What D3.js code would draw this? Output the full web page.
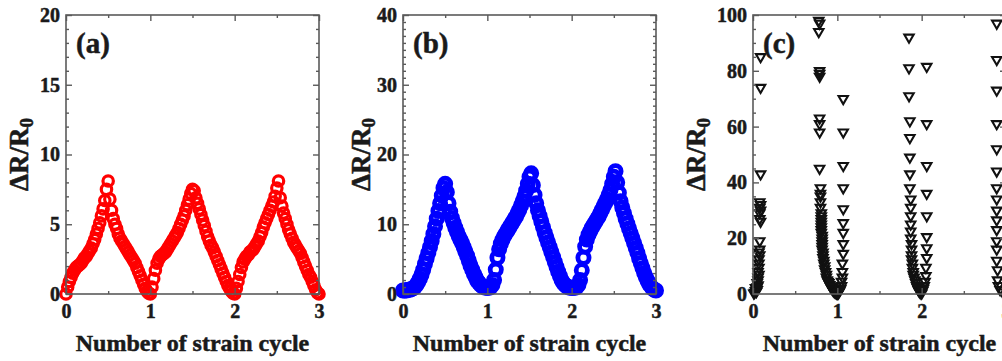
<!DOCTYPE html>
<html>
<head>
<meta charset="utf-8">
<script src="https://cdn.jsdelivr.net/npm/d3@7/dist/d3.min.js"></script>
<style>
	body { margin: 0; background: #fff; }
	svg text { font-family: 'Liberation Serif', 'Times New Roman', serif; font-weight: bold; fill: #1a1a1a; stroke: #1a1a1a; stroke-width: 0.5px; }
</style>
</head>
<body>
<svg id="chart" width="1002" height="361"></svg>
<script>
'use strict';

// strain cycle positions shared by panels (a) and (b)
var strainX = [
	0,0.02,0.04,0.06,0.08,0.1,0.12,0.14,0.16,0.18,0.2,0.22,0.24,0.26,0.28,0.3,0.32,0.34,0.36,0.38,
	0.4,0.42,0.44,0.46,0.48,0.5,0.52,0.54,0.56,0.58,0.6,0.62,0.64,0.66,0.68,0.7,0.72,0.74,0.76,0.78,
	0.8,0.82,0.84,0.86,0.88,0.9,0.92,0.94,0.96,0.98,
	1,1.02,1.04,1.06,1.08,1.1,1.12,1.14,1.16,1.18,1.2,1.22,1.24,1.26,1.28,1.3,1.32,1.34,1.36,1.38,
	1.4,1.42,1.44,1.46,1.48,1.5,1.52,1.54,1.56,1.58,1.6,1.62,1.64,1.66,1.68,1.7,1.72,1.74,1.76,1.78,
	1.8,1.82,1.84,1.86,1.88,1.9,1.92,1.94,1.96,1.98,
	2,2.02,2.04,2.06,2.08,2.1,2.12,2.14,2.16,2.18,2.2,2.22,2.24,2.26,2.28,2.3,2.32,2.34,2.36,2.38,
	2.4,2.42,2.44,2.46,2.48,2.5,2.52,2.54,2.56,2.58,2.6,2.62,2.64,2.66,2.68,2.7,2.72,2.74,2.76,2.78,
	2.8,2.82,2.84,2.86,2.88,2.9,2.92,2.94,2.96,2.98,3
];

// panel (a) dR/R0
var aY = [
	0,0.5,0.9,1.2,1.5,1.7,1.9,2.0,2.1,2.2,2.4,2.6,2.7,2.9,3.1,3.3,3.6,3.9,4.3,4.7,
	5.1,5.6,6.1,6.7,7.5,8.1,6.8,6.0,5.4,5.0,4.7,4.3,4.0,3.8,3.6,3.4,3.2,3.0,2.8,2.6,
	2.4,2.2,1.9,1.6,1.3,1.0,0.7,0.4,0.2,0.05,
	0,0.5,1.1,1.7,2.2,2.5,2.7,2.8,2.9,3.0,3.2,3.4,3.6,3.8,4.0,4.2,4.4,4.7,5.0,5.3,
	5.6,6.0,6.4,6.8,7.2,7.5,7.4,6.9,6.5,6.1,5.7,5.3,4.9,4.5,4.1,3.8,3.5,3.3,3.0,2.7,
	2.4,2.1,1.8,1.5,1.2,0.9,0.6,0.4,0.2,0.05,
	0,0.4,0.9,1.4,1.9,2.3,2.5,2.7,2.8,3.0,3.1,3.2,3.4,3.6,3.8,4.1,4.4,4.8,5.1,5.4,
	5.7,6.0,6.3,6.6,7.0,7.6,8.1,6.9,6.3,5.8,5.4,5.0,4.6,4.3,4.0,3.7,3.5,3.3,3.1,2.9,
	2.6,2.3,2.0,1.7,1.4,1.2,0.9,0.6,0.3,0.1,0
];

// panel (b) dR/R0
var bY = [
	0.5,0.5,0.5,0.6,0.6,0.7,0.8,1.0,1.3,1.7,2.2,2.8,3.5,4.3,5.1,5.9,6.7,7.6,8.6,9.7,
	10.8,11.9,13.0,14.1,15.2,15.8,14.6,13.0,11.8,10.9,10.2,9.5,8.9,8.3,7.8,7.3,6.7,6.1,5.5,4.8,
	4.1,3.5,2.9,2.4,1.9,1.6,1.3,1.1,1.0,0.9,
	0.9,0.9,1.0,1.3,2.0,3.5,5.2,6.4,7.2,7.8,8.3,8.7,9.1,9.5,9.9,10.3,10.7,11.1,11.6,12.1,
	12.7,13.3,14.0,14.8,15.8,16.8,17.3,15.6,14.2,13.0,12.0,11.2,10.4,9.6,8.8,8.1,7.4,6.7,6.0,5.3,
	4.6,3.9,3.2,2.6,2.0,1.6,1.3,1.1,1.0,0.9,
	0.9,0.9,0.9,1.0,1.3,2.0,3.4,5.2,6.8,7.8,8.5,9.0,9.5,9.9,10.3,10.7,11.1,11.6,12.1,12.6,
	13.1,13.6,14.2,14.9,15.8,16.8,17.6,16.0,14.5,13.3,12.4,11.6,10.8,10.1,9.4,8.7,8.0,7.3,6.6,5.9,
	5.1,4.4,3.7,3.0,2.4,1.9,1.4,1.1,0.8,0.6,0.5
];

// panel (c) points, x then y, one line per cluster
var cX = [
	0.09,0.09,0.09,0.08,0.09,0.08,0.09,0.08,0.08,0.09,0.08,0.08,0.07,0.08,0.07,0.07,0.07,0.06,0.07,0.06,0.06,0.05,0.06,0.05,0.04,0.03,0.04,0.02,0.01,0.03,0.05,
	0.78,0.79,0.78,0.79,0.79,0.79,0.79,0.79,0.79,0.79,0.8,0.8,0.8,0.8,0.8,0.81,0.81,0.81,0.81,0.81,0.81,0.81,0.81,0.82,0.82,0.82,0.82,0.82,0.82,0.83,0.83,0.83,0.84,0.84,0.85,0.85,0.86,0.87,0.87,0.88,0.89,0.9,0.91,0.92,0.93,0.94,0.95,0.96,0.97,0.98,0.99,1.0,1.01,
	1.07,1.07,1.07,1.07,1.07,1.07,1.07,1.07,1.07,1.06,1.06,1.06,1.05,1.05,1.04,1.03,1.02,1.01,
	1.85,1.85,1.85,1.86,1.86,1.86,1.86,1.86,1.87,1.87,1.87,1.87,1.87,1.87,1.88,1.88,1.88,1.88,1.89,1.89,1.9,1.9,1.91,1.92,1.93,1.94,1.95,1.96,1.97,1.98,1.99,2.0,
	2.06,2.06,2.06,2.06,2.06,2.06,2.06,2.06,2.05,2.05,2.04,2.03,2.02,2.01,
	2.89,2.89,2.89,2.89,2.89,2.89,2.89,2.89,2.89,2.89,2.89,2.89,2.89,2.89,2.9,2.9,2.91,2.93,2.96
];
var cY = [
	85,74,43,33,32,31,30,29,27,26,19,16,15,14,12.5,11,9.5,8,7,6,5,4,3.2,2.5,1.8,1.2,0.8,0.5,0.3,2.2,1.5,
	98,97,94,80,79,78,63,61,58,45,38,36,35,33,31,29,28,27,26,25,24,23,22,21,20,19,18,17,16,15,14,13,12,11,10,9,8,7,6,5,4.5,4,3.3,2.7,2.2,1.7,1.3,1.0,0.7,0.5,0.3,0.2,0.3,
	70,58,46,38,30.5,25.5,22,18,14.5,11,8,6,4.5,3,2,1.3,0.8,0.5,
	92,81,71,62,56,49,43,38,34,31,28,25,22.5,20,18,16,14,12.5,11,9.5,8,7,6,5,4,3,2.2,1.5,1.0,0.6,0.4,0.3,
	81.5,61,46,36,28,20.5,16.5,13,9.5,6.5,4.5,3,2,1.2,
	97,84,73,61,52,44,38,34,30,26.5,23,19,16,12,8.6,5,3,1.5,0.7
];

var xTicks = [0, 1, 2, 3];
var xMinor = [0.5, 1.5, 2.5];

var panels = [
	{ label: '(a)', left: 66, yMax: 20, yStep: 5, yMinor: 1, titleX: 28,
	  xs: strainX, ys: aY, mark: 'circle', color: '#ff0000', r: 5.2, sw: 3.2 },
	{ label: '(b)', left: 403, yMax: 40, yStep: 10, yMinor: 1, titleX: 370,
	  xs: strainX, ys: bY, mark: 'circle', color: '#0000ff', r: 5.6, sw: 4.8 },
	{ label: '(c)', left: 753, yMax: 100, yStep: 20, yMinor: 5, titleX: 705,
	  xs: cX, ys: cY, mark: 'triangle', color: '#111111', r: 0, sw: 2.1 }
];

var svg = d3.select('#chart');
var plotTop = 15;
var width = 253;
var height = 279;
var frameColor = '#5a5a5a';

panels.forEach(function(p){

	var g = svg.append('g')
		.attr('transform', 'translate(' + p.left + ',' + plotTop + ')');

	var x = d3.scaleLinear().domain([0, 3]).range([0, width]);
	var y = d3.scaleLinear().domain([0, p.yMax]).range([height, 0]);

	var yMajor = d3.range(0, p.yMax + 0.001, p.yStep);
	var yMinorTicks = d3.range(0, p.yMax + 0.001, p.yMinor).filter(function(v){ return v % p.yStep !== 0; });

	var pts = p.xs.map(function(v, i){ return { x: v, y: p.ys[i] }; });

	// markers
	var marks = g.append('g').attr('class', 'marks');
	if (p.mark === 'circle') {
		marks.selectAll('circle')
			.data(pts)
			.enter().append('circle')
			.attr('cx', function(d){ return x(d.x); })
			.attr('cy', function(d){ return y(d.y); })
			.attr('r', p.r)
			.attr('fill', 'none')
			.attr('stroke', p.color)
			.attr('stroke-width', p.sw);
	} else {
		var tri = d3.symbol().type(d3.symbolTriangle).size(38);
		marks.selectAll('path')
			.data(pts)
			.enter().append('path')
			.attr('d', tri)
			.attr('transform', function(d){ return 'translate(' + x(d.x) + ',' + y(d.y) + ') rotate(180)'; })
			.attr('fill', 'none')
			.attr('stroke', p.color)
			.attr('stroke-width', p.sw);
	}

	// axes, ticks pointing inward on all four sides
	function styleAxis(sel){
		sel.select('.domain').remove();
		sel.selectAll('line').attr('stroke', frameColor).attr('stroke-width', 1.4);
		sel.selectAll('text').attr('fill', '#1a1a1a').style('font-size', '20px');
	}

	g.append('g')
		.attr('transform', 'translate(0,' + height + ')')
		.call(d3.axisBottom(x).tickValues(xTicks).tickSize(-6).tickPadding(10).tickFormat(d3.format('d')))
		.call(styleAxis);
	g.append('g')
		.attr('transform', 'translate(0,' + height + ')')
		.call(d3.axisBottom(x).tickValues(xMinor).tickSize(-3).tickFormat(''))
		.call(styleAxis);
	g.append('g')
		.call(d3.axisTop(x).tickValues(xTicks).tickSize(-6).tickFormat(''))
		.call(styleAxis);
	g.append('g')
		.call(d3.axisTop(x).tickValues(xMinor).tickSize(-3).tickFormat(''))
		.call(styleAxis);

	g.append('g')
		.call(d3.axisLeft(y).tickValues(yMajor).tickSize(-6).tickPadding(6).tickFormat(d3.format('d')))
		.call(styleAxis);
	g.append('g')
		.call(d3.axisLeft(y).tickValues(yMinorTicks).tickSize(-3).tickFormat(''))
		.call(styleAxis);
	g.append('g')
		.attr('transform', 'translate(' + width + ',0)')
		.call(d3.axisRight(y).tickValues(yMajor).tickSize(-6).tickFormat(''))
		.call(styleAxis);
	g.append('g')
		.attr('transform', 'translate(' + width + ',0)')
		.call(d3.axisRight(y).tickValues(yMinorTicks).tickSize(-3).tickFormat(''))
		.call(styleAxis);

	g.append('rect')
		.attr('width', width)
		.attr('height', height)
		.attr('fill', 'none')
		.attr('stroke', frameColor)
		.attr('stroke-width', 1.6);

	// panel letter
	g.append('text')
		.attr('x', 10)
		.attr('y', 38)
		.style('font-size', '29px')
		.text(p.label);

	// x title
	g.append('text')
		.attr('x', width / 2)
		.attr('y', 336)
		.attr('text-anchor', 'middle')
		.style('font-size', '24px')
		.text('Number of strain cycle');

	// y title
	var yt = svg.append('text')
		.attr('transform', 'translate(' + p.titleX + ',' + (plotTop + height / 2) + ') rotate(-90)')
		.attr('text-anchor', 'middle')
		.style('font-size', '27px');
	yt.append('tspan').text('\u0394R/R');
	yt.append('tspan').attr('dy', 5).style('font-size', '19px').text('0');
});
</script>
</body>
</html>
